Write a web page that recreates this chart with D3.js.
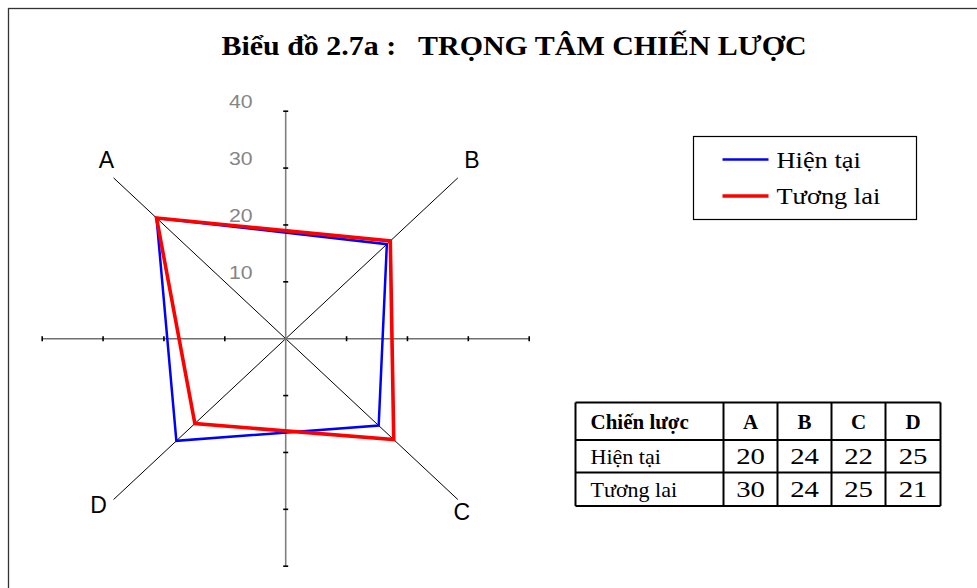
<!DOCTYPE html>
<html>
<head>
<meta charset="utf-8">
<script src="https://cdn.jsdelivr.net/npm/d3@7"></script>
<style>
body { margin: 0; background: #fff; }
svg { display: block; }
.title { font-family: "Liberation Serif", "Times New Roman", serif; font-weight: bold; font-size: 28px; }
.cat { font-family: "Liberation Sans", Arial, sans-serif; font-size: 23px; fill: #000; }
.tick-label { font-family: "Liberation Sans", Arial, sans-serif; font-size: 19px; fill: #858585; }
.legend-text { font-family: "Liberation Serif", "Times New Roman", serif; font-size: 24px; }
.tbl { font-family: "Liberation Serif", "Times New Roman", serif; }
</style>
</head>
<body>
<script>
// categories + values
var categories = ["A", "B", "C", "D"];
var seriesNames = ["Hiện tại", "Tương lai"];
var hienTai = [30, 23.5, 21.6, 25.4];
var tuongLai = [30, 24.3, 25.1, 21.1];
var tickValues = [10, 20, 30, 40];

// data table printed beside the chart
var tableHeader = ["Chiến lược", "A", "B", "C", "D"];
var tableHienTai = [20, 24, 22, 25];
var tableTuongLai = [30, 24, 25, 21];

var width = 977, height = 588;
var cx = 285.7, cy = 338.7;
var colors = ["#0000ff", "#ff0000"];

var svg = d3.select("body").append("svg")
    .attr("width", width)
    .attr("height", height);

// the original is a bit stretched sideways, text included
function stretched(sel, x, y, sx) {
    return sel.attr("transform", "translate(" + x + "," + y + ") scale(" + sx + ",1)");
}

// outer frame
svg.append("rect")
    .attr("x", 8.5).attr("y", 8.5)
    .attr("width", width + 20).attr("height", height + 20)
    .attr("fill", "none")
    .attr("stroke", "#333")
    .attr("stroke-width", 1.3);

stretched(svg.append("text"), 514, 55, 1.07)
    .attr("class", "title")
    .attr("text-anchor", "middle")
    .attr("xml:space", "preserve")
    .style("white-space", "pre")
    .text("Biểu đồ 2.7a :   TRỌNG TÂM CHIẾN LƯỢC");

var rx = d3.scaleLinear().domain([0, 40]).range([0, 243.5]);
var ry = d3.scaleLinear().domain([0, 40]).range([0, 227.5]);
var angle = d3.scaleOrdinal().domain(categories).range([-45, 45, 135, 225]);

function pt(cat, v) {
    var a = angle(cat) * Math.PI / 180;
    return [cx + rx(v) * Math.sin(a), cy - ry(v) * Math.cos(a)];
}

var g = svg.append("g");

// diagonal spokes
categories.forEach(function(c) {
    var p = pt(c, 40);
    g.append("line")
        .attr("x1", cx).attr("y1", cy)
        .attr("x2", p[0]).attr("y2", p[1])
        .attr("stroke", "#000")
        .attr("stroke-width", 1);
});

// vertical + horizontal axes
g.append("line")
    .attr("x1", cx).attr("x2", cx)
    .attr("y1", cy - ry(40)).attr("y2", cy + ry(40))
    .attr("stroke", "#808080").attr("stroke-width", 1.6);
g.append("line")
    .attr("x1", cx - rx(40)).attr("x2", cx + rx(40))
    .attr("y1", cy).attr("y2", cy)
    .attr("stroke", "#707070").attr("stroke-width", 1.4);

tickValues.forEach(function(t) {
    [1, -1].forEach(function(s) {
        g.append("line")
            .attr("x1", cx - 2.5).attr("x2", cx + 2.5)
            .attr("y1", cy - s * ry(t)).attr("y2", cy - s * ry(t))
            .attr("stroke", "#000").attr("stroke-width", 1.6);
        g.append("line")
            .attr("x1", cx + s * rx(t)).attr("x2", cx + s * rx(t))
            .attr("y1", cy - 2.5).attr("y2", cy + 2.5)
            .attr("stroke", "#000").attr("stroke-width", 1.6);
    });
});

g.selectAll(".tick-label")
    .data(tickValues)
    .enter()
    .append("text")
    .attr("class", "tick-label")
    .attr("text-anchor", "end")
    .attr("transform", function(d) {
        return "translate(" + (cx - 33) + "," + (cy - ry(d) - 3) + ") scale(1.12,1)";
    })
    .text(function(d) { return d; });

// category labels, nudged like the original
var nudge = {A: [-7, -10], B: [14, -10], C: [4, 20], D: [-15, 13]};
g.selectAll(".cat")
    .data(categories)
    .enter()
    .append("text")
    .attr("class", "cat")
    .attr("text-anchor", "middle")
    .attr("x", function(d) { return pt(d, 40)[0] + nudge[d][0]; })
    .attr("y", function(d) { return pt(d, 40)[1] + nudge[d][1]; })
    .text(function(d) { return d; });

var line = d3.line().curve(d3.curveLinearClosed);
[hienTai, tuongLai].forEach(function(vals, i) {
    g.append("path")
        .attr("d", line(categories.map(function(c, j) { return pt(c, vals[j]); })))
        .attr("fill", "none")
        .attr("stroke", colors[i])
        .attr("stroke-width", i == 0 ? 2.5 : 3.6)
        .attr("stroke-linejoin", "miter");
});

// legend
var lg = svg.append("g").attr("transform", "translate(693.5,136.5)");
lg.append("rect")
    .attr("width", 223).attr("height", 83)
    .attr("fill", "#fff").attr("stroke", "#000").attr("stroke-width", 1.2);
seriesNames.forEach(function(n, i) {
    lg.append("line")
        .attr("x1", 29).attr("x2", 75)
        .attr("y1", 23 + i * 36.5).attr("y2", 23 + i * 36.5)
        .attr("stroke", colors[i]).attr("stroke-width", i == 0 ? 2.5 : 3.6);
    stretched(lg.append("text"), 83, 31 + i * 36.5, 1.1)
        .attr("class", "legend-text")
        .text(n);
});

// data table
var colX = [575.5, 723.5, 777.5, 831.5, 885.5, 940.5];
var rowY = [402.5, 440, 472.5, 506];
var tg = svg.append("g").attr("class", "tbl");
rowY.forEach(function(y) {
    tg.append("line").attr("x1", colX[0]).attr("x2", colX[5])
        .attr("y1", y).attr("y2", y)
        .attr("stroke", "#000").attr("stroke-width", 2);
});
colX.forEach(function(x) {
    tg.append("line").attr("x1", x).attr("x2", x)
        .attr("y1", rowY[0]).attr("y2", rowY[3])
        .attr("stroke", "#000").attr("stroke-width", 2);
});
var rows = [
    {cells: tableHeader, bold: true},
    {cells: [seriesNames[0]].concat(tableHienTai), bold: false},
    {cells: [seriesNames[1]].concat(tableTuongLai), bold: false}
];
rows.forEach(function(r, i) {
    r.cells.forEach(function(c, j) {
        var first = j == 0;
        var x = first ? colX[0] + 15 : (colX[j] + colX[j + 1]) / 2;
        var y = (rowY[i] + rowY[i + 1]) / 2 + 7.5;
        var size = i == 0 ? 20 : (first ? 21 : 23);
        stretched(tg.append("text"), x, y, i > 0 && !first ? 1.25 : 1.05)
            .attr("text-anchor", first ? "start" : "middle")
            .style("font-size", size + "px")
            .style("font-weight", r.bold ? "bold" : "normal")
            .text(c);
    });
});
</script>
</body>
</html>
